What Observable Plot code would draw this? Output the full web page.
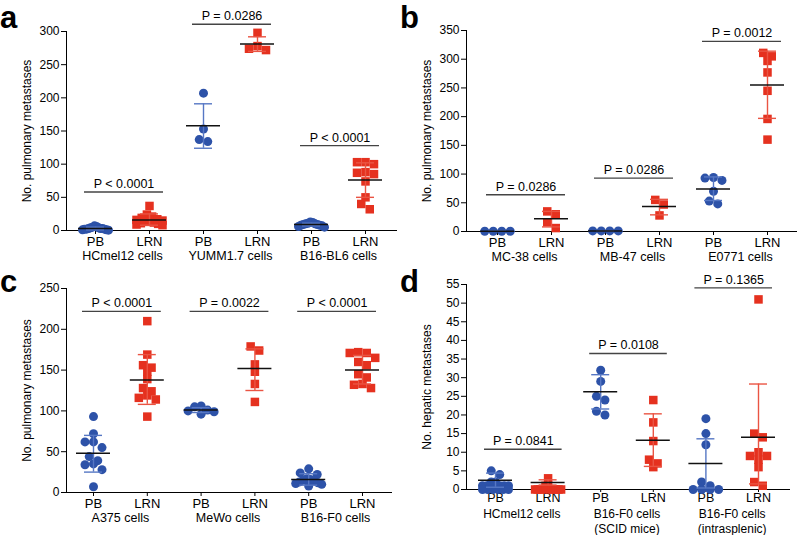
<!DOCTYPE html>
<html><head><meta charset="utf-8">
<script src="https://cdn.jsdelivr.net/npm/d3@7"></script>
<script src="https://cdn.jsdelivr.net/npm/@observablehq/plot@0.6"></script>
<style>
body{margin:0;background:#fff;font-family:"Liberation Sans",Arial,sans-serif;}
#wrap{position:relative;width:797px;height:535px;overflow:hidden;}
.panel{position:absolute;}
.letter{position:absolute;font:bold 31px "Liberation Sans",Arial,sans-serif;line-height:1;color:#000;}
</style></head><body><div id="wrap"></div>
<script>
const conds = ["PB", "LRN"];

// ---- Panel a ----
const groupsA = ["HCmel12 cells", "YUMM1.7 cells", "B16-BL6 cells"];
const pA = ["P < 0.0001", "P = 0.0286", "P < 0.0001"];
const bracketA = [58, 311, 128];
const pointsA = [
  [0.5, 1, 1, 2, 2, 2, 3, 3, 3, 4, 4, 5, 6, 7],
  [37, 24, 21, 19, 17, 16, 15, 14, 13, 12, 11, 10, 9, 8],
  [207, 153, 137, 134],
  [298, 278, 274, 272],
  [5, 6, 7, 8, 8, 9, 9, 10, 10, 11, 12, 13],
  [103, 103, 100, 88, 87, 85, 74, 50, 40, 32]
];
const meanA = [3, 16, 158, 281, 9, 76];
const loA = [1, 8, 124, 270, 7, 50];
const hiA = [5, 25, 191, 292, 11, 102];

// ---- Panel b ----
const groupsB = ["MC-38 cells", "MB-47 cells", "E0771 cells"];
const pB = ["P = 0.0286", "P = 0.0286", "P = 0.0012"];
const bracketB = [64, 93, 331];
const pointsB = [
  [0.5, 0.5, 0.5, 0.5],
  [35, 30, 16, 6],
  [1, 1, 1, 1],
  [55, 47, 28],
  [94, 93, 89, 70, 53, 48],
  [311, 305, 297, 277, 245, 196, 160]
];
const meanB = [0.5, 22, 1, 43.5, 74, 255];
const loB = [0.5, 8, 1, 29, 54, 197];
const hiB = [0.5, 35, 1, 56, 95, 314];

// ---- Panel c ----
const groupsC = ["A375 cells", "MeWo cells", "B16-F0 cells"];
const pC = ["P < 0.0001", "P = 0.0022", "P < 0.0001"];
const bracketC = [222, 222, 222];
const pointsC = [
  [93, 72, 62, 62, 55, 44, 39, 35, 34, 28, 7],
  [210, 169, 156, 153, 148, 139, 128, 124, 119, 116, 114, 93],
  [106, 105, 101, 100, 99, 96],
  [179, 174, 157, 148, 133, 111],
  [29, 24, 22, 17, 16, 15, 14, 13, 12, 11, 10, 8],
  [172, 171, 171, 165, 160, 156, 145, 141, 133, 132, 128]
];
const meanC = [48, 138, 101, 152, 16, 150];
const loC = [25, 108, 98, 125, 9, 133];
const hiC = [70, 169, 104, 176, 23, 168];

// ---- Panel d ----
const groupsD = ["HCmel12 cells", "B16-F0 cells\n(SCID mice)", "B16-F0 cells\n(intrasplenic)"];
const pD = ["P = 0.0841", "P = 0.0108", "P = 0.1365"];
const bracketD = [10.8, 36.5, 54.1];
const pointsD = [
  [5, 4, 2, 2, 1, 1, 1, 1, 1, 0, 0, 0, 0, 0, 0],
  [3, 1, 1, 0, 0, 0, 0, 0, 0, 0, 0, 0],
  [32, 29, 25, 24, 21, 20],
  [24, 18, 13, 8, 7, 6],
  [19, 15, 12, 2, 1, 0, 0, 0, 0],
  [51, 15, 14, 10, 9, 9, 8, 6, 2, 1]
];
const meanD = [2.5, 1.9, 26.2, 13.2, 7, 14];
const loD = [0.6, 1.2, 21.6, 6.2, 0.4, 1.5];
const hiD = [4.4, 2.6, 30.8, 20.3, 13.6, 28.3];

const BLUE = "#2d52a8", RED = "#e5311f", BLUE_BAR = "#5677c4", RED_BAR = "#ea5443";

function makePanel(o) {
  const g = o.geom;
  const nCol = o.groups.length * 2;
  const unit = (g.xLast - g.xFirst) / (nCol - 1);
  const xDomain = [-(g.xFirst - g.ml) / unit, (nCol - 1) + (g.xEnd - g.xLast) / unit];
  const pxY = (g.h - g.mt - g.mb) / o.yMax;
  const S = 8.5, MAXSPAN = 26, ROWTOL = 6;
  const dots = [];
  o.points.forEach((vals, c) => {
    const sorted = [...vals].sort((a, b) => b - a);
    const rows = [];
    for (const v of sorted) {
      const r = rows[rows.length - 1];
      if (r && (r[0] - v) * pxY < ROWTOL) r.push(v); else rows.push([v]);
    }
    rows.forEach(r => {
      const n = r.length;
      const sp = n > 1 ? Math.min(S, MAXSPAN / (n - 1)) : 0;
      const offs = d3.range(n).map(k => (k - (n - 1) / 2) * sp)
        .sort((a, b) => Math.abs(a) - Math.abs(b) || a - b);
      r.forEach((v, k) => dots.push({c, v, x: c + offs[k] / unit}));
    });
  });
  const cols = d3.range(nCol).map(c => ({c, mean: o.means[c], lo: o.lo[c], hi: o.hi[c]}));
  const pb = cols.filter(d => d.c % 2 === 0), lrn = cols.filter(d => d.c % 2 === 1);
  const brackets = o.groups.map((name, i) => ({
    y: o.bracketY[i], p: o.pLabels[i],
    x1: 2 * i - 11 / unit, x2: 2 * i + 1 + 14 / unit
  }));
  const glabels = o.groups.map((name, i) => ({x: 2 * i + 0.5, name}));
  const CAP = 9, MW = 17;
  const bars = (data, color) => [
    Plot.ruleX(data, {x: "c", y1: "lo", y2: "hi", stroke: color, strokeWidth: 1.4}),
    Plot.ruleY(data, {y: "lo", x1: d => d.c - CAP / unit, x2: d => d.c + CAP / unit, stroke: color, strokeWidth: 1.4}),
    Plot.ruleY(data, {y: "hi", x1: d => d.c - CAP / unit, x2: d => d.c + CAP / unit, stroke: color, strokeWidth: 1.4})
  ];
  return Plot.plot({
    width: g.w, height: g.h,
    marginLeft: g.ml, marginRight: g.w - g.xEnd, marginTop: g.mt, marginBottom: g.mb,
    style: {fontFamily: "'Liberation Sans', Arial, sans-serif", fontSize: "12px", color: "#000", background: "transparent", overflow: "visible"},
    x: {domain: xDomain},
    y: {domain: [0, o.yMax]},
    marks: [
      Plot.axisY({ticks: d3.range(0, o.yMax + 1e-9, o.yStep), tickSize: 5, tickPadding: 2, fontSize: 12,
        label: o.yLabel, labelAnchor: "center", labelOffset: 44, labelArrow: "none"}),
      Plot.axisX({ticks: d3.range(nCol), tickFormat: i => conds[i % 2], tickSize: g.tickSize, tickPadding: g.tickPad, fontSize: g.tickFont, label: null}),
      Plot.ruleX([xDomain[0]], {y1: 0, y2: o.yMax, stroke: "#000", strokeWidth: 1}),
      Plot.ruleY([0], {stroke: "#000", strokeWidth: 1}),
      Plot.ruleY(brackets, {y: "y", x1: "x1", x2: "x2", stroke: "#444", strokeWidth: 1.4}),
      Plot.text(brackets, {x: d => (d.x1 + d.x2) / 2, y: "y", text: "p", dy: -4, lineAnchor: "bottom", fontSize: 12.5}),
      Plot.dot(dots.filter(d => d.c % 2 === 0), {x: "x", y: "v", r: 4.5, fill: BLUE, symbol: "circle"}),
      Plot.dot(dots.filter(d => d.c % 2 === 1), {x: "x", y: "v", r: 4.8, fill: RED, symbol: "square"}),
      ...bars(pb, BLUE_BAR),
      ...bars(lrn, RED_BAR),
      Plot.ruleY(cols, {y: "mean", x1: d => d.c - MW / unit, x2: d => d.c + MW / unit, stroke: "#111", strokeWidth: 1.5}),
      Plot.text(glabels, {x: "x", y: d => 0, text: "name", lineAnchor: "top", dy: g.gdy, fontSize: g.gFont, lineHeight: 1.17})
    ]
  });
}

const panels = [
  {letter: "a", left: 0, top: 0, lx: 0, ly: 2, groups: groupsA, pLabels: pA, bracketY: bracketA, points: pointsA, means: meanA, lo: loA, hi: hiA,
   yMax: 300, yStep: 50, yLabel: "No. pulmonary metastases",
   geom: {w: 400, h: 268, ml: 66, mt: 31, mb: 38, xFirst: 95, xLast: 365, xEnd: 397, gdy: 19, gFont: 12.5, tickFont: 13, tickSize: 4, tickPad: 2}},
  {letter: "b", left: 400, top: 0, lx: 400, ly: 2, groups: groupsB, pLabels: pB, bracketY: bracketB, points: pointsB, means: meanB, lo: loB, hi: hiB,
   yMax: 350, yStep: 50, yLabel: "No. pulmonary metastases",
   geom: {w: 397, h: 268, ml: 66, mt: 30, mb: 37, xFirst: 97, xLast: 367, xEnd: 397, gdy: 19, gFont: 12.5, tickFont: 13, tickSize: 4, tickPad: 2}},
  {letter: "c", left: 0, top: 265, lx: 0, ly: 266, groups: groupsC, pLabels: pC, bracketY: bracketC, points: pointsC, means: meanC, lo: loC, hi: hiC,
   yMax: 250, yStep: 50, yLabel: "No. pulmonary metastases",
   geom: {w: 400, h: 270, ml: 66, mt: 23, mb: 43, xFirst: 93, xLast: 362, xEnd: 392, gdy: 19, gFont: 12.5, tickFont: 13, tickSize: 4, tickPad: 2}},
  {letter: "d", left: 400, top: 265, lx: 400, ly: 266, groups: groupsD, pLabels: pD, bracketY: bracketD, points: pointsD, means: meanD, lo: loD, hi: hiD,
   yMax: 55, yStep: 5, yLabel: "No. hepatic metastases",
   geom: {w: 397, h: 270, ml: 66, mt: 19, mb: 46, xFirst: 95, xLast: 358, xEnd: 390, gdy: 19, gFont: 12, tickFont: 12.5, tickSize: 3, tickPad: 1}}
];

const wrap = document.getElementById("wrap");
for (const p of panels) {
  const div = document.createElement("div");
  div.className = "panel";
  div.style.left = p.left + "px";
  div.style.top = p.top + "px";
  div.appendChild(makePanel(p));
  wrap.appendChild(div);
  const L = document.createElement("div");
  L.className = "letter";
  L.textContent = p.letter;
  L.style.left = p.lx + "px";
  L.style.top = p.ly + "px";
  wrap.appendChild(L);
}
</script>
</body></html>
